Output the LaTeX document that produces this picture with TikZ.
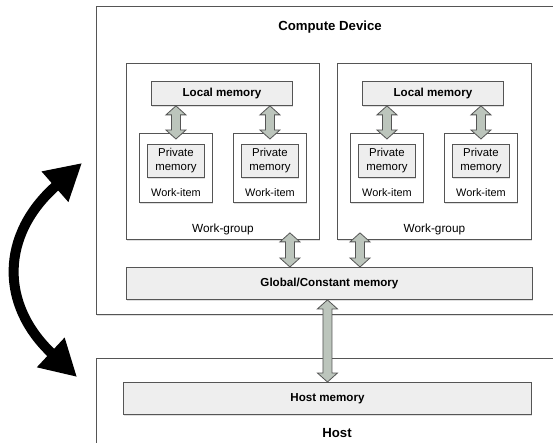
\documentclass[tikz,border=0pt]{standalone}
\usepackage{fontspec}
\setmainfont{Liberation Sans}
\usetikzlibrary{calc,shadows,arrows.meta}
\definecolor{bordc}{HTML}{555555}
\definecolor{memfill}{HTML}{EEEEEE}
\definecolor{arrfill}{HTML}{BCC5BC}
\tikzset{
  box/.style={draw=bordc, line width=0.9pt, fill=white, anchor=north west, inner sep=0pt,
    drop shadow={shadow xshift=0.8pt, shadow yshift=-1.8pt, opacity=0.25}},
  membox/.style={box, fill=memfill},
  lbl/.style={font=\fontsize{11.8}{13}\selectfont, inner sep=0pt},
  smalllbl/.style={font=\fontsize{10.9}{13}\selectfont, inner sep=0pt},
  blbl/.style={font=\bfseries\fontsize{11.6}{13}\selectfont},
  pmlbl/.style={font=\fontsize{11.4}{14}\selectfont, align=center},
  title/.style={font=\bfseries\fontsize{13.2}{15}\selectfont, inner sep=0pt},
  garrow/.style={draw=bordc, line width=0.8pt, fill=arrfill, line join=miter},
  bigarrow/.style={line width=10pt, {Triangle[length=36pt,width=38pt]}-{Triangle[length=36pt,width=38pt]}}
}
\newcommand\gdarr[2]{%
  \path[garrow] let \p1=#1, \p2=#2 in
    (\x1,\y1) -- (\x1+10pt,\y1-9pt) -- (\x1+4.5pt,\y1-9pt) -- (\x1+4.5pt,\y2+9pt)
    -- (\x1+10pt,\y2+9pt) -- (\x1,\y2) -- (\x1-10pt,\y2+9pt) -- (\x1-4.5pt,\y2+9pt)
    -- (\x1-4.5pt,\y1-9pt) -- (\x1-10pt,\y1-9pt) -- cycle;}
\begin{document}
\begin{tikzpicture}[x=1pt,y=-1pt]
\useasboundingbox (0,0) rectangle (553,443);
\clip (0,0) rectangle (553,443);
\fill[white] (0,0) rectangle (553,443);

% outer boxes
\node[box, minimum width=520pt, minimum height=308pt] (cd) at (96,6) {};
\node[title] (cdt) at (330,27) {Compute Device};
\node[box, minimum width=520pt, minimum height=120pt] (host) at (96,358) {};
\node[title] (hostt) at (337,433) {Host};

% work-groups
\node[box, minimum width=193pt, minimum height=176pt] (wg1) at (126,63) {};
\node[box, minimum width=194pt, minimum height=176pt] (wg2) at (337,63) {};
\node[lbl] (wg1t) at ($(wg1.south)+(0,-10)$) {Work-group};
\node[lbl] (wg2t) at ($(wg2.south)+(0,-10)$) {Work-group};

% local memories
\node[membox, minimum width=141pt, minimum height=24pt, blbl] (lm1) at (151,81) {Local memory};
\node[membox, minimum width=141pt, minimum height=24pt, blbl] (lm2) at (362,81) {Local memory};

% work-items
\foreach \n/\x in {wi1a/139, wi1b/233, wi2a/350, wi2b/444}{
  \node[box, minimum width=73pt, minimum height=69pt] (\n) at (\x,133) {};
  \node[smalllbl] (\n t) at ($(\n.south)+(0,-10)$) {Work-item};
  \node[membox, minimum width=57pt, minimum height=33pt, pmlbl] (\n pm) at (\x+8,144) {Private\\memory};
}

% global and host memory
\node[membox, minimum width=406pt, minimum height=32pt, blbl] (gm) at (126,267) {Global/Constant memory};
\node[membox, minimum width=408pt, minimum height=32pt, blbl] (hm) at (123,382) {Host memory};

% grey double arrows
\gdarr{(lm1.south -| wi1a.north)}{($(wi1a.north)+(0,6)$)}
\gdarr{(lm1.south -| wi1b.north)}{($(wi1b.north)+(0,6)$)}
\gdarr{(lm2.south -| wi2a.north)}{($(wi2a.north)+(0,6)$)}
\gdarr{(lm2.south -| wi2b.north)}{($(wi2b.north)+(0,6)$)}
\gdarr{($(wg1.south east)+(-30,-7)$)}{(gm.north)}
\gdarr{($(wg2.south west)+(23,-7)$)}{(gm.north)}
\gdarr{($(gm.south)+(-2,0)$)}{(hm.north)}

% big black curved arrow
\coordinate (ca) at (82,163);
\coordinate (cb) at (77,377);
\draw[bigarrow] (ca) .. controls (0,235) and (0,305) .. (cb);
\end{tikzpicture}
\end{document}
